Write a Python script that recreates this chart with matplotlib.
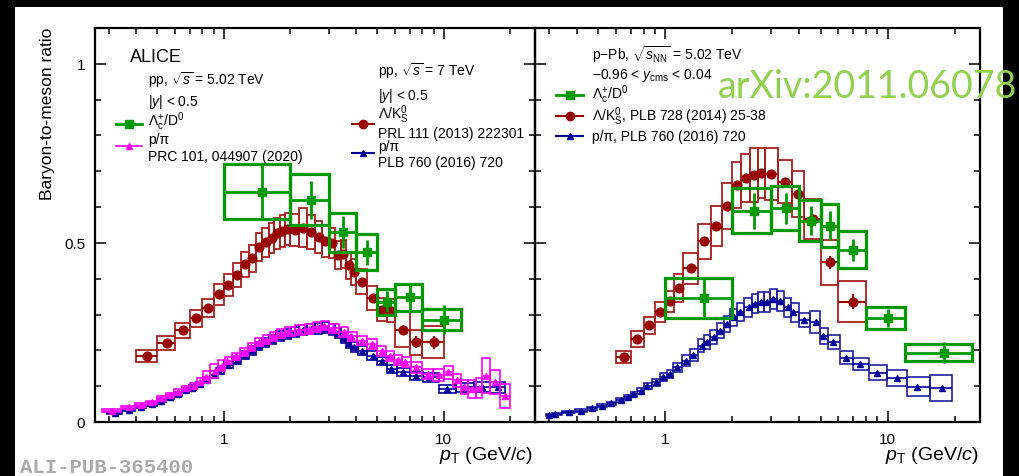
import numpy as np
import matplotlib
matplotlib.use('Agg')
import matplotlib.pyplot as plt
from matplotlib.lines import Line2D
from matplotlib.patches import Rectangle
from matplotlib.ticker import FixedLocator, MultipleLocator, NullFormatter, LogLocator

W, H = 1019, 477

plt.rcParams['font.family'] = ['Liberation Sans', 'DejaVu Sans']
plt.rcParams['mathtext.fontset'] = 'custom'
plt.rcParams['mathtext.rm'] = 'Liberation Sans'
plt.rcParams['mathtext.it'] = 'Liberation Sans:italic'
plt.rcParams['mathtext.bf'] = 'Liberation Sans:bold'

GREEN = '#009900'
RED = '#990000'
BLUE = '#000099'
MAGENTA = '#ff00ff'

# ---------------- pp panel ----------------
# Lambda_c+/D0, pp 5.02 TeV
lc_pp_lo = [1, 2, 3, 4, 5, 6, 8]
lc_pp_hi = [2, 3, 4, 5, 6, 8, 12]
lc_pp_pt = [1.5, 2.5, 3.5, 4.5, 5.5, 7, 10]
lc_pp_val = [0.643, 0.621, 0.530, 0.474, 0.336, 0.348, 0.286]
lc_pp_stat = [0.080, 0.053, 0.045, 0.035, 0.030, 0.035, 0.040]
lc_pp_sys = [0.077, 0.070, 0.054, 0.051, 0.036, 0.037, 0.029]

# Lambda/K0S, pp 7 TeV
lk_pp_edges = [0.4, 0.5, 0.6, 0.7, 0.8, 0.9, 1.0, 1.1, 1.2, 1.3, 1.4, 1.5, 1.6,
               1.7, 1.8, 1.9, 2.0, 2.2, 2.4, 2.6, 2.8, 3.0, 3.2, 3.4, 3.6, 3.8,
               4.0, 4.5, 5.0, 5.5, 6.0, 7.0, 8.0, 10.0]
lk_pp_pt = [0.45, 0.55, 0.65, 0.75, 0.85, 0.95, 1.05, 1.15, 1.25, 1.35, 1.45,
            1.55, 1.65, 1.75, 1.85, 1.95, 2.1, 2.3, 2.5, 2.7, 2.9, 3.1, 3.3,
            3.5, 3.7, 3.9, 4.25, 4.75, 5.25, 5.75, 6.5, 7.5, 9.0]
lk_pp_val = [0.185, 0.220, 0.256, 0.290, 0.318, 0.356, 0.383, 0.411, 0.440,
             0.457, 0.488, 0.502, 0.514, 0.527, 0.534, 0.539, 0.536, 0.543,
             0.530, 0.516, 0.504, 0.499, 0.466, 0.469, 0.437, 0.418, 0.392,
             0.346, 0.314, 0.311, 0.258, 0.223, 0.223]
lk_pp_stat = [0.003] * 26 + [0.005, 0.006, 0.008, 0.010, 0.012, 0.016, 0.018]
lk_pp_sys = [0.017, 0.019, 0.021, 0.024, 0.026, 0.028, 0.031, 0.033, 0.035,
             0.037, 0.039, 0.040, 0.042, 0.043, 0.045, 0.045, 0.045, 0.055,
             0.048, 0.045, 0.042, 0.042, 0.040, 0.040, 0.037, 0.036, 0.035,
             0.033, 0.032, 0.032, 0.050, 0.035, 0.045]

# p/pi, pp 7 TeV
ppi7_pt = [0.32, 0.37, 0.42, 0.47, 0.52, 0.57, 0.62, 0.67, 0.72, 0.78, 0.83,
           0.9, 0.95, 1.05, 1.15, 1.25, 1.35, 1.45, 1.55, 1.65, 1.8, 1.95,
           2.1, 2.3, 2.5, 2.7, 2.9, 3.1, 3.3, 3.5, 3.7, 3.9, 4.25, 4.75,
           5.25, 5.75, 6.5, 7.5, 8.6, 10.4, 12.4, 15.0, 17.6]
ppi7_val = [0.024, 0.034, 0.042, 0.050, 0.060, 0.069, 0.078, 0.088, 0.096,
            0.106, 0.117, 0.132, 0.143, 0.160, 0.174, 0.188, 0.200, 0.212,
            0.222, 0.231, 0.240, 0.247, 0.252, 0.257, 0.260, 0.262, 0.263,
            0.258, 0.248, 0.235, 0.220, 0.209, 0.199, 0.185, 0.171, 0.148,
            0.140, 0.129, 0.125, 0.092, 0.097, 0.097, 0.097]
ppi7_sys = [0.003, 0.003, 0.004, 0.004, 0.005, 0.005, 0.006, 0.006, 0.007,
            0.007, 0.008, 0.009, 0.009, 0.010, 0.011, 0.011, 0.012, 0.012,
            0.013, 0.013, 0.013, 0.014, 0.014, 0.014, 0.015, 0.015, 0.015,
            0.015, 0.014, 0.014, 0.013, 0.013, 0.012, 0.012, 0.011, 0.011,
            0.011, 0.011, 0.012, 0.012, 0.013, 0.014, 0.016]

# p/pi, pp 5.02 TeV
ppi5_pt = [0.31, 0.37, 0.42, 0.47, 0.52, 0.57, 0.62, 0.67, 0.73, 0.78, 0.83,
           0.91, 0.98, 1.04, 1.14, 1.24, 1.33, 1.45, 1.56, 1.67, 1.82, 1.99,
           2.21, 2.45, 2.65, 2.87, 3.13, 3.54, 3.79, 4.24, 4.73, 5.25, 5.72,
           6.22, 6.69, 7.49, 8.44, 9.48, 10.5, 11.5, 12.4, 13.5, 14.5, 15.5,
           17.1, 19.0]
ppi5_val = [0.032, 0.041, 0.047, 0.055, 0.066, 0.075, 0.085, 0.094, 0.101,
            0.113, 0.125, 0.143, 0.157, 0.171, 0.183, 0.196, 0.209, 0.223,
            0.230, 0.239, 0.248, 0.253, 0.257, 0.260, 0.265, 0.269, 0.262,
            0.251, 0.239, 0.227, 0.218, 0.199, 0.183, 0.173, 0.167, 0.153,
            0.134, 0.131, 0.139, 0.117, 0.097, 0.092, 0.094, 0.129, 0.111,
            0.073]
ppi5_sys = [0.004, 0.004, 0.005, 0.005, 0.006, 0.006, 0.007, 0.007, 0.008,
            0.009, 0.016, 0.020, 0.015, 0.010, 0.010, 0.011, 0.011, 0.012,
            0.012, 0.012, 0.013, 0.013, 0.013, 0.013, 0.013, 0.013, 0.013,
            0.013, 0.013, 0.013, 0.014, 0.014, 0.014, 0.014, 0.014, 0.015,
            0.015, 0.016, 0.018, 0.018, 0.020, 0.026, 0.028, 0.049, 0.034,
            0.033]

# ---------------- p-Pb panel ----------------
lc_pb_lo = [1, 2, 3, 4, 5, 6, 8, 12]
lc_pb_hi = [2, 3, 4, 5, 6, 8, 12, 24]
lc_pb_pt = [1.5, 2.5, 3.5, 4.5, 5.5, 7, 10, 18]
lc_pb_val = [0.346, 0.590, 0.597, 0.562, 0.548, 0.481, 0.290, 0.194]
lc_pb_stat = [0.057, 0.050, 0.043, 0.041, 0.040, 0.031, 0.026, 0.029]
lc_pb_sys = [0.056, 0.062, 0.062, 0.058, 0.060, 0.051, 0.030, 0.023]

lk_pb_edges = [0.6, 0.7, 0.8, 0.9, 1.0, 1.1, 1.2, 1.4, 1.6, 1.8, 2.0, 2.2,
               2.4, 2.6, 2.8, 3.2, 3.7, 4.2, 5.0, 6.0, 8.0]
lk_pb_pt = [0.65, 0.75, 0.85, 0.95, 1.05, 1.15, 1.3, 1.5, 1.7, 1.9, 2.1, 2.3,
            2.5, 2.7, 3.0, 3.45, 3.95, 4.6, 5.5, 7.0]
lk_pb_val = [0.182, 0.231, 0.270, 0.308, 0.337, 0.374, 0.429, 0.504, 0.548,
             0.603, 0.662, 0.681, 0.689, 0.695, 0.693, 0.671, 0.637, 0.567,
             0.446, 0.336]
lk_pb_stat = [0.003] * 17 + [0.010, 0.018, 0.020]
lk_pb_sys = [0.016, 0.022, 0.023, 0.028, 0.030, 0.040, 0.044, 0.050, 0.056,
             0.063, 0.065, 0.067, 0.075, 0.070, 0.072, 0.060, 0.065, 0.055,
             0.063, 0.057]

ppi_pb_pt = [0.30, 0.32, 0.37, 0.42, 0.47, 0.52, 0.57, 0.63, 0.68, 0.72, 0.78,
             0.83, 0.91, 0.98, 1.05, 1.13, 1.24, 1.34, 1.46, 1.54, 1.65, 1.77,
             1.89, 2.03, 2.17, 2.37, 2.54, 2.7, 2.86, 3.06, 3.28, 3.55, 3.77,
             4.21, 4.77, 5.13, 5.7, 6.49, 7.5, 8.93, 10.97, 13.5, 17.5]
ppi_pb_val = [0.020, 0.022, 0.027, 0.032, 0.038, 0.045, 0.052, 0.061, 0.069,
              0.077, 0.087, 0.101, 0.111, 0.125, 0.134, 0.153, 0.171, 0.187,
              0.213, 0.223, 0.237, 0.255, 0.274, 0.292, 0.306, 0.320, 0.330,
              0.334, 0.336, 0.344, 0.339, 0.320, 0.306, 0.285, 0.279, 0.241,
              0.224, 0.179, 0.161, 0.137, 0.123, 0.099, 0.094]
ppi_pb_sys = [0.002, 0.002, 0.003, 0.003, 0.004, 0.004, 0.005, 0.006, 0.006,
              0.007, 0.008, 0.009, 0.010, 0.011, 0.012, 0.013, 0.015, 0.016,
              0.018, 0.019, 0.020, 0.021, 0.022, 0.024, 0.025, 0.026, 0.027,
              0.028, 0.028, 0.028, 0.028, 0.027, 0.026, 0.019, 0.030, 0.022,
              0.020, 0.018, 0.017, 0.021, 0.023, 0.026, 0.036]


def fx(x):
    return x / W


def fy(y):
    return 1 - y / H


def mid_edges(pt):
    pt = np.asarray(pt, float)
    mids = 0.5 * (pt[:-1] + pt[1:])
    lo = np.concatenate([[pt[0] - (mids[0] - pt[0])], mids])
    hi = np.concatenate([mids, [pt[-1] + (pt[-1] - mids[-1])]])
    return lo, hi


def draw(ax, pt, val, lo, hi, sys, stat, color, boxcolor, marker, ms, blw, elw, z):
    pt, val, lo, hi, sys = map(lambda a: np.asarray(a, float), (pt, val, lo, hi, sys))
    ax.bar(lo, 2 * sys, width=hi - lo, bottom=val - sys, align='edge', fill=False,
           edgecolor=boxcolor, linewidth=blw, zorder=z)
    ax.errorbar(pt, val, yerr=stat, xerr=[pt - lo, hi - pt], fmt=marker, color=color,
                ms=ms, elinewidth=elw, capsize=0, zorder=z + 0.5)


fig = plt.figure(figsize=(W / 100, H / 100), dpi=100, facecolor='black')
fig.add_artist(Rectangle((fx(15), 0), fx(1003) - fx(15), fy(8), transform=fig.transFigure,
                         facecolor='white', edgecolor='none', zorder=-10))

ax1 = fig.add_axes([fx(95), fy(423), (535 - 95) / W, (423 - 29) / H])
ax2 = fig.add_axes([fx(535), fy(423), (980 - 535) / W, (423 - 29) / H])

for ax in (ax1, ax2):
    ax.set_xscale('log')
    ax.set_xlim(0.26, 26)
    ax.set_ylim(0, 1.1)
    ax.patch.set_alpha(0)

# pp panel
lo, hi = mid_edges(ppi7_pt)
draw(ax1, ppi7_pt, ppi7_val, lo, hi, ppi7_sys, 0.002, BLUE, BLUE, '^', 5, 1.2, 1.2, 2)
lo, hi = mid_edges(ppi5_pt)
draw(ax1, ppi5_pt, ppi5_val, lo, hi, ppi5_sys, 0.003, MAGENTA, MAGENTA, '^', 5, 1.2, 1.2, 3)
draw(ax1, lk_pp_pt, lk_pp_val, lk_pp_edges[:-1], lk_pp_edges[1:], lk_pp_sys, lk_pp_stat,
     RED, '#a82020', 'o', 6.3, 1.3, 1.5, 4)
draw(ax1, lc_pp_pt, lc_pp_val, lc_pp_lo, lc_pp_hi, lc_pp_sys, lc_pp_stat,
     GREEN, GREEN, 's', 5.5, 2.3, 2.0, 5)

# p-Pb panel
lo, hi = mid_edges(ppi_pb_pt)
draw(ax2, ppi_pb_pt, ppi_pb_val, lo, hi, ppi_pb_sys, 0.002, BLUE, '#2020a0', '^', 5, 1.2, 1.2, 2)
draw(ax2, lk_pb_pt, lk_pb_val, lk_pb_edges[:-1], lk_pb_edges[1:], lk_pb_sys, lk_pb_stat,
     RED, '#a82020', 'o', 6.3, 1.3, 1.5, 4)
draw(ax2, lc_pb_pt, lc_pb_val, lc_pb_lo, lc_pb_hi, lc_pb_sys, lc_pb_stat,
     GREEN, GREEN, 's', 5.5, 2.3, 2.0, 5)

for ax in (ax1, ax2):
    for s in ax.spines.values():
        s.set_linewidth(1.6)
    ax.xaxis.set_major_locator(FixedLocator([1, 10]))
    ax.xaxis.set_minor_locator(LogLocator(base=10, subs=np.arange(2, 10)))
    ax.xaxis.set_minor_formatter(NullFormatter())
    ax.set_xticklabels(['1', '10'])
    ax.yaxis.set_major_locator(FixedLocator([0, 0.5, 1]))
    ax.yaxis.set_minor_locator(MultipleLocator(0.1))
    ax.tick_params(which='both', direction='in', top=True, right=True, labelsize=11)
    ax.tick_params(which='major', length=8, width=1.1, pad=7)
    ax.tick_params(which='minor', length=4, width=1.1)
ax1.set_yticklabels(['0', '0.5', '1'])
ax2.tick_params(labelleft=False)

# axis titles
fig.text(fx(48), fy(28), 'Baryon-to-meson ratio', rotation=90, ha='center', va='top', fontsize=12.5)
fig.text(fx(533), fy(456), r'$p_{\rm T}$ (GeV/$c$)', ha='right', va='center', fontsize=14)
fig.text(fx(979), fy(456), r'$p_{\rm T}$ (GeV/$c$)', ha='right', va='center', fontsize=14)


def entry(x0, x1, y, color, marker, ms, lw):
    fig.add_artist(Line2D([fx(x0), fx(x1)], [fy(y), fy(y)], transform=fig.transFigure,
                          color=color, lw=lw))
    fig.add_artist(Line2D([fx((x0 + x1) / 2)], [fy(y)], transform=fig.transFigure,
                          color=color, marker=marker, ms=ms, lw=0))


fs = 10
# left panel legend
fig.text(fx(130), fy(57), 'ALICE', fontsize=13, va='center')
fig.text(fx(148), fy(80), r'pp, $\sqrt{s}$ = 5.02 TeV', fontsize=fs, va='center')
fig.text(fx(148), fy(102), r'|$y$| < 0.5', fontsize=fs, va='center')
entry(116, 142, 125, GREEN, 's', 5.5, 2)
fig.text(fx(148), fy(122), r'Λ$_{\rm c}^{+}$/D$^{0}$', fontsize=fs, va='center')
fig.text(fx(148), fy(140), 'p/π', fontsize=fs, va='center')
entry(116, 142, 147, MAGENTA, '^', 4.5, 1.2)
fig.text(fx(148), fy(157), 'PRC 101, 044907 (2020)', fontsize=fs, va='center')

fig.text(fx(378), fy(71), r'pp, $\sqrt{s}$ = 7 TeV', fontsize=fs, va='center')
fig.text(fx(378), fy(96), r'|$y$| < 0.5', fontsize=fs, va='center')
fig.text(fx(378), fy(115), r'Λ/K$^{0}_{\rm S}$', fontsize=fs, va='center')
entry(352, 374, 125, RED, 'o', 6, 1.5)
fig.text(fx(378), fy(134), 'PRL 111 (2013) 222301', fontsize=fs, va='center')
fig.text(fx(378), fy(147), 'p/π', fontsize=fs, va='center')
entry(352, 374, 154, BLUE, '^', 5, 1.5)
fig.text(fx(378), fy(163), 'PLB 760 (2016) 720', fontsize=fs, va='center')

# right panel legend
fig.text(fx(592), fy(55), r'p$-$Pb, $\sqrt{s_{\rm NN}}$ = 5.02 TeV', fontsize=fs, va='center')
fig.text(fx(592), fy(75), r'$-$0.96 < $y_{\rm cms}$ < 0.04', fontsize=fs, va='center')
entry(556, 583, 96, GREEN, 's', 5.5, 2)
fig.text(fx(592), fy(95), r'Λ$_{\rm c}^{+}$/D$^{0}$', fontsize=fs, va='center')
entry(556, 583, 117, RED, 'o', 6, 1.5)
fig.text(fx(592), fy(117), r'Λ/K$^{0}_{\rm S}$, PLB 728 (2014) 25-38', fontsize=fs, va='center')
entry(556, 583, 137, BLUE, '^', 5, 1.5)
fig.text(fx(592), fy(137), 'p/π, PLB 760 (2016) 720', fontsize=fs, va='center')

fig.text(fx(718), fy(87), 'arXiv:2011.06078', color='#92d050', fontsize=27,
         family='Lato', va='center', zorder=20)
fig.text(fx(20), fy(468), 'ALI-PUB-365400', color='#aaaaaa', fontsize=14.9,
         family='Liberation Mono', weight='bold', va='center')

fig.savefig('out.png', dpi=100, facecolor='black')
